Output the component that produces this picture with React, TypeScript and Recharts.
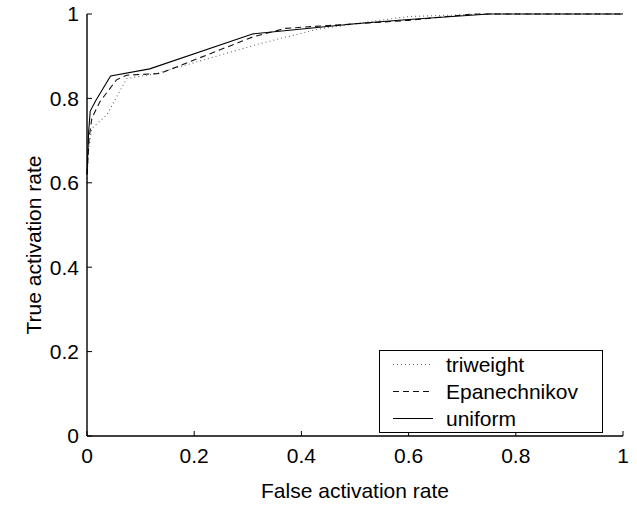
import React from 'react';
import { LineChart, Line, XAxis, YAxis, Legend } from 'recharts';

// ROC-style curves
const uniformX = [0, 0.003, 0.006, 0.017, 0.044, 0.117, 0.31, 0.5, 0.6, 0.75, 1];
const uniformY = [0.62, 0.72, 0.77, 0.796, 0.853, 0.87, 0.953, 0.977, 0.987, 1, 1];

const epanX = [0, 0.004, 0.009, 0.024, 0.055, 0.074, 0.136, 0.31, 0.37, 0.6, 0.72, 1];
const epanY = [0.62, 0.705, 0.753, 0.792, 0.844, 0.855, 0.859, 0.946, 0.966, 0.985, 1, 1];

const triX = [0, 0.003, 0.009, 0.037, 0.074, 0.13, 0.323, 0.43, 0.534, 0.6, 0.75, 1];
const triY = [0.6, 0.68, 0.729, 0.761, 0.847, 0.859, 0.93, 0.964, 0.983, 0.994, 1, 1];

const xTicks = [0, 0.2, 0.4, 0.6, 0.8, 1];
const yTicks = [0, 0.2, 0.4, 0.6, 0.8, 1];

const seriesNames = ['triweight', 'Epanechnikov', 'uniform'];

const toPoints = (xs: number[], ys: number[]) => xs.map((x, i) => ({ x, y: ys[i] }));

const FONT = '"Liberation Sans", Arial, Helvetica, sans-serif';

const series = [
  { name: seriesNames[0], data: toPoints(triX, triY), stroke: '#666', dash: '1 3' },
  { name: seriesNames[1], data: toPoints(epanX, epanY), stroke: '#111', dash: '6 4' },
  { name: seriesNames[2], data: toPoints(uniformX, uniformY), stroke: '#000', dash: undefined },
];

function LegendBox() {
  return (
    <div
      style={{
        border: '1px solid #000',
        background: '#fff',
        width: 222,
        height: 81,
        fontFamily: FONT,
        fontSize: 21,
        color: '#000',
      }}
    >
      {series.map((s) => (
        <div key={s.name} style={{ height: 27, display: 'flex', alignItems: 'center' }}>
          <svg width={66} height={27} style={{ flexShrink: 0 }}>
            <line x1={13} x2={53} y1={13.5} y2={13.5} stroke={s.stroke} strokeWidth={1} strokeDasharray={s.dash} />
          </svg>
          <span style={{ lineHeight: '27px' }}>{s.name}</span>
        </div>
      ))}
    </div>
  );
}

const fmt = (v: number) => String(v);

export default function App() {
  const tickStyle = { fontSize: 21, fill: '#000', fontFamily: FONT };
  return (
    <div style={{ position: 'absolute', left: 0, top: 0, width: 637, height: 508, background: '#fff' }}>
      <LineChart width={637} height={508} margin={{ top: 14, right: 14, bottom: 32, left: 27 }}>
        <XAxis
          dataKey="x"
          type="number"
          domain={[0, 1]}
          ticks={xTicks}
          tickFormatter={fmt}
          height={40}
          tickSize={-5}
          tickMargin={17}
          tick={tickStyle}
          axisLine={{ stroke: '#000', strokeWidth: 1.4 }}
          tickLine={{ stroke: '#000' }}
          label={{
            content: () => (
              <text x={355} y={490} textAnchor="middle" dominantBaseline="central" fontFamily={FONT} fontSize={21} fill="#000">
                False activation rate
              </text>
            ),
          }}
        />
        <XAxis
          xAxisId="top"
          orientation="top"
          type="number"
          domain={[0, 1]}
          ticks={xTicks}
          height={0}
          tick={false}
          tickSize={-5}
          axisLine={{ stroke: '#000', strokeWidth: 1.4 }}
          tickLine={{ stroke: '#000' }}
        />
        <YAxis
          type="number"
          domain={[0, 1]}
          ticks={yTicks}
          tickFormatter={fmt}
          width={60}
          tickSize={-5}
          tickMargin={13}
          tick={tickStyle}
          axisLine={{ stroke: '#000', strokeWidth: 1.4 }}
          tickLine={{ stroke: '#000' }}
          label={{
            content: () => (
              <text
                x={33}
                y={245}
                transform="rotate(-90, 33, 245)"
                textAnchor="middle"
                dominantBaseline="central"
                fontFamily={FONT}
                fontSize={21}
                fill="#000"
              >
                True activation rate
              </text>
            ),
          }}
        />
        <YAxis
          yAxisId="right"
          orientation="right"
          type="number"
          domain={[0, 1]}
          ticks={yTicks}
          width={0}
          tick={false}
          tickSize={-5}
          axisLine={{ stroke: '#000', strokeWidth: 1.4 }}
          tickLine={{ stroke: '#000' }}
        />
        {series.map((s) => (
          <Line
            key={s.name}
            data={s.data}
            dataKey="y"
            name={s.name}
            type="linear"
            stroke={s.stroke}
            strokeWidth={1.1}
            strokeDasharray={s.dash}
            dot={false}
            activeDot={false}
            isAnimationActive={false}
          />
        ))}
        <Legend
          layout="horizontal"
          verticalAlign="middle"
          content={() => <LegendBox />}
          wrapperStyle={{ position: 'absolute', left: 379, top: 350, width: 224, height: 83 }}
        />
      </LineChart>
    </div>
  );
}
